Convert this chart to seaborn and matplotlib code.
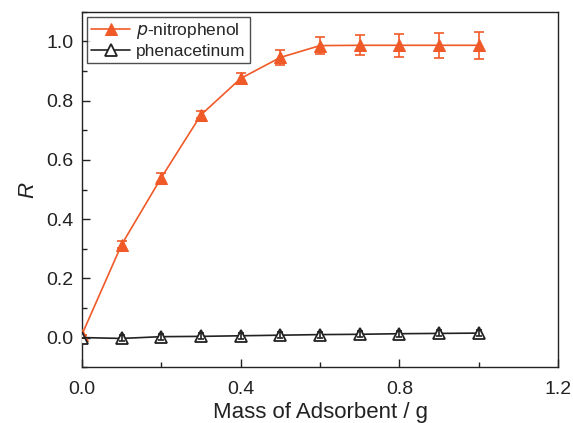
import matplotlib
matplotlib.use("Agg")
import matplotlib.pyplot as plt
import seaborn as sns
from matplotlib.ticker import MultipleLocator

mass = [0.0, 0.1, 0.2, 0.3, 0.4, 0.5, 0.6, 0.7, 0.8, 0.9, 1.0]
r_nitro = [0.01, 0.314, 0.54, 0.752, 0.875, 0.946, 0.986, 0.987, 0.987, 0.987, 0.987]
err_nitro = [0.0, 0.012, 0.015, 0.012, 0.02, 0.026, 0.03, 0.034, 0.038, 0.042, 0.045]
r_phen = [0.0, -0.003, 0.003, 0.004, 0.006, 0.008, 0.01, 0.011, 0.013, 0.014, 0.015]
err_phen = [0.0, 0.01, 0.01, 0.01, 0.01, 0.01, 0.01, 0.01, 0.01, 0.01, 0.01]

sns.set_theme(style="ticks")
plt.rcParams['font.family'] = ['Liberation Sans', 'DejaVu Sans']

orange = "#F05A28"
dark = "#222222"
fig, ax = plt.subplots(figsize=(5.73, 4.23), dpi=100)
fig.subplots_adjust(left=0.143, right=0.974, top=0.972, bottom=0.132)

ax.errorbar(mass, r_nitro, yerr=err_nitro, fmt="none", ecolor=orange, elinewidth=1.2,
            capsize=3.6, capthick=1.2, zorder=2)
ax.errorbar(mass, r_phen, yerr=err_phen, fmt="none", ecolor=dark, elinewidth=1.2,
            capsize=2.5, capthick=1.2, zorder=4)

sns.lineplot(x=mass, y=r_nitro, ax=ax, color=orange, marker="^", markersize=9,
             markeredgecolor=orange, markerfacecolor=orange, linewidth=1.2,
             label=r"$p$-nitrophenol", zorder=3)
sns.lineplot(x=mass, y=r_phen, ax=ax, color=dark, marker="^", markersize=9,
             markeredgecolor=dark, markerfacecolor="white", markeredgewidth=1.3, linewidth=1.2,
             label="phenacetinum", zorder=3)

ax.set_xlim(0, 1.2)
ax.set_ylim(-0.1, 1.1)
ax.xaxis.set_major_locator(MultipleLocator(0.4))
ax.xaxis.set_minor_locator(MultipleLocator(0.2))
ax.yaxis.set_major_locator(MultipleLocator(0.2))
ax.yaxis.set_minor_locator(MultipleLocator(0.1))
ax.set_xticks([0.0, 0.4, 0.8, 1.2])
ax.set_xticklabels(["0.0", "0.4", "0.8", "1.2"])
ax.set_yticks([0.0, 0.2, 0.4, 0.6, 0.8, 1.0])
ax.set_yticklabels(["0.0", "0.2", "0.4", "0.6", "0.8", "1.0"])
ax.tick_params(which="both", direction="in", top=False, right=False, labelsize=14,
               colors=dark, width=1.0)
ax.tick_params(which="major", length=6)
ax.tick_params(which="minor", length=3.5)
ax.tick_params(axis="x", pad=10)
ax.tick_params(axis="y", pad=6)
for s in ax.spines.values():
    s.set_color(dark)
    s.set_linewidth(1.0)

ax.set_xlabel("Mass of Adsorbent / g", fontsize=16, color=dark, labelpad=3)
ax.set_ylabel("R", fontsize=16, color=dark, style="italic", labelpad=6)

leg = ax.legend(loc="upper left", fontsize=12.5, frameon=True, fancybox=False, edgecolor=dark,
                handlelength=2.2, borderpad=0.25, labelspacing=0.12, handletextpad=0.35,
                borderaxespad=0.3)
leg.get_frame().set_linewidth(1.0)

fig.savefig("out.png", dpi=100)
